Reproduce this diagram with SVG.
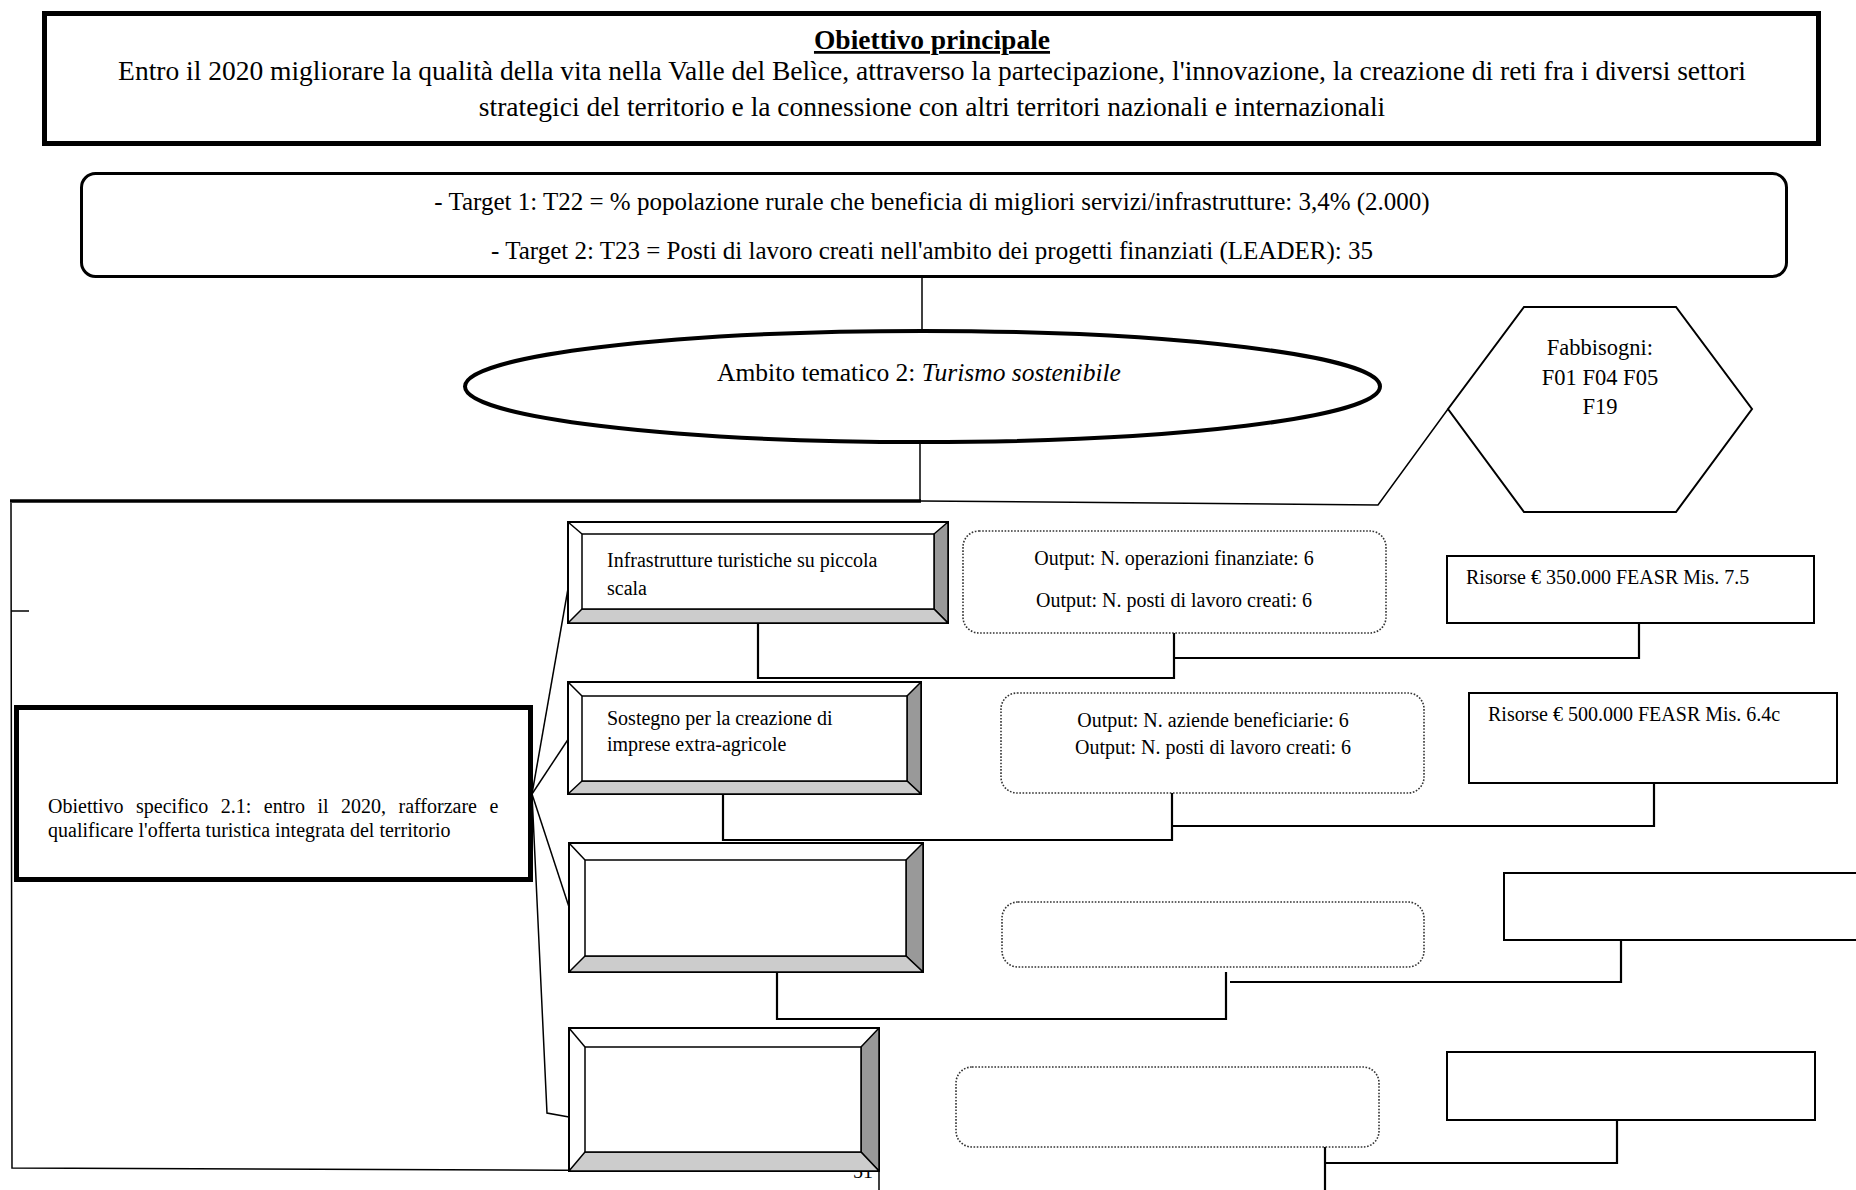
<svg xmlns="http://www.w3.org/2000/svg" width="1856" height="1190" viewBox="0 0 1856 1190">
  <style>
    text { font-family: "Liberation Serif", "Times New Roman", serif; fill: #000; }
    .t-main { font-size: 27.5px; }
    .t-target { font-size: 25px; }
    .t-theme { font-size: 25.5px; }
    .t-need { font-size: 22.5px; }
    .t-body { font-size: 20px; }
    .box { fill: #fff; stroke: #000; }
    .ln { fill: none; stroke: #000; stroke-width: 1.5; }
    .ln2 { fill: none; stroke: #000; stroke-width: 2.2; }
    .dot { fill: #fff; stroke: #333; stroke-width: 1.6; stroke-dasharray: 1.6 1.6; }
    .bev-out { fill: #fff; stroke: #000; stroke-width: 2; }
    .bev-r { fill: #999; stroke: #000; stroke-width: 1.5; stroke-linejoin: round; }
    .bev-b { fill: #ccc; stroke: #000; stroke-width: 1.5; stroke-linejoin: round; }
    .bev-in { fill: #fff; stroke: #000; stroke-width: 1.5; }
  </style>

  <!-- page number, partly covered by the last measure box -->
  <text class="t-body" x="853" y="1178">51</text>

  <!-- connectors -->
  <g id="connectors">
    <!-- target box to theme ellipse -->
    <line class="ln" x1="922" y1="278" x2="922" y2="331"/>
    <!-- ellipse down to main branch -->
    <line class="ln" x1="920" y1="442" x2="920" y2="501"/>
    <!-- main branch line -->
    <line x1="10" y1="501" x2="921" y2="501" stroke="#000" stroke-width="3.5"/>
    <polyline class="ln" points="921,501 1378,505 1448,409"/>
    <!-- left rail -->
    <polyline class="ln" points="11,503 12,1168 724,1171"/>
    <line class="ln" x1="11" y1="611" x2="29" y2="611"/>
    <!-- fan from the specific objective to the four measures -->
    <line class="ln" x1="532" y1="794" x2="569" y2="583"/>
    <line class="ln" x1="532" y1="794" x2="569" y2="738"/>
    <line class="ln" x1="532" y1="794" x2="569" y2="907"/>
    <polyline class="ln" points="532,794 547,1113 569,1117"/>
    <!-- measure 1 -->
    <polyline class="ln2" points="758,623 758,678 1174,678 1174,633"/>
    <polyline class="ln2" points="1174,658 1639,658 1639,623"/>
    <!-- measure 2 -->
    <polyline class="ln2" points="723,794 723,840 1172,840 1172,793"/>
    <polyline class="ln2" points="1172,826 1654,826 1654,783"/>
    <!-- measure 3 -->
    <polyline class="ln2" points="777,972 777,1019 1226,1019 1226,972"/>
    <polyline class="ln2" points="1230,982 1621,982 1621,940"/>
    <!-- measure 4 -->
    <line class="ln2" x1="1325" y1="1147" x2="1325" y2="1190"/>
    <polyline class="ln2" points="1325,1163 1617,1163 1617,1120"/>
    <line class="ln" x1="879" y1="1171" x2="879" y2="1190"/>
  </g>

  <!-- main objective -->
  <g id="obiettivo-principale">
    <rect class="box" x="44.5" y="13.5" width="1774" height="130" stroke-width="5"/>
    <text class="t-main" x="932" y="49" text-anchor="middle" font-weight="bold" text-decoration="underline">Obiettivo principale</text>
    <text class="t-main" x="932" y="80" text-anchor="middle">Entro il 2020 migliorare la qualità della vita nella Valle del Belìce, attraverso la partecipazione, l'innovazione, la creazione di reti fra i diversi settori</text>
    <text class="t-main" x="932" y="116" text-anchor="middle">strategici del territorio e la connessione con altri territori nazionali e internazionali</text>
  </g>

  <!-- targets -->
  <g id="target">
    <rect class="box" x="81.5" y="173.5" width="1705" height="103" rx="14" stroke-width="3"/>
    <text class="t-target" x="932" y="210" text-anchor="middle">- Target 1: T22 = % popolazione rurale che beneficia di migliori servizi/infrastrutture: 3,4% (2.000)</text>
    <text class="t-target" x="932" y="259" text-anchor="middle">- Target 2: T23 = Posti di lavoro creati nell'ambito dei progetti finanziati (LEADER): 35</text>
  </g>

  <!-- thematic area -->
  <g id="ambito-tematico">
    <ellipse class="box" cx="922.5" cy="386.5" rx="457.5" ry="55.5" stroke-width="4"/>
    <text class="t-theme" x="919" y="381" text-anchor="middle">Ambito tematico 2: <tspan font-style="italic">Turismo sostenibile</tspan></text>
  </g>

  <!-- needs -->
  <g id="fabbisogni">
    <polygon class="box" stroke-width="2" points="1448,409 1524,307 1676,307 1752,409 1676,512 1524,512"/>
    <text class="t-need" x="1600" y="355" text-anchor="middle">Fabbisogni:</text>
    <text class="t-need" x="1600" y="385" text-anchor="middle">F01 F04 F05</text>
    <text class="t-need" x="1600" y="414" text-anchor="middle">F19</text>
  </g>

  <!-- specific objective -->
  <g id="obiettivo-specifico">
    <rect class="box" x="16.5" y="707.5" width="514" height="172" stroke-width="5"/>
    <text class="t-body" x="48" y="813" word-spacing="7.5">Obiettivo specifico 2.1: entro il 2020, rafforzare e</text>
    <text class="t-body" x="48" y="837">qualificare l'offerta turistica integrata del territorio</text>
  </g>

  <!-- measure 1 -->
  <g id="misura-1">
    <rect class="bev-out" x="568" y="522" width="380" height="101"/>
    <polygon class="bev-r" points="948,522 948,623 934,609 934,534"/>
    <polygon class="bev-b" points="568,623 948,623 934,609 582,609"/>
    <line class="ln" x1="568" y1="522" x2="582" y2="534"/>
    <rect class="bev-in" x="582" y="534" width="352" height="75"/>
    <text class="t-body" x="607" y="567">Infrastrutture turistiche su piccola</text>
    <text class="t-body" x="607" y="595">scala</text>
  </g>
  <g id="output-1">
    <rect class="dot" x="963" y="531" width="423" height="102" rx="16"/>
    <text class="t-body" x="1174" y="565" text-anchor="middle">Output: N. operazioni finanziate: 6</text>
    <text class="t-body" x="1174" y="607" text-anchor="middle">Output: N. posti di lavoro creati: 6</text>
  </g>
  <g id="risorse-1">
    <rect class="box" x="1447" y="556" width="367" height="67" stroke-width="2"/>
    <text class="t-body" x="1466" y="584">Risorse € 350.000 FEASR Mis. 7.5</text>
  </g>

  <!-- measure 2 -->
  <g id="misura-2">
    <rect class="bev-out" x="568" y="682" width="353" height="112"/>
    <polygon class="bev-r" points="921,682 921,794 907,781 907,696"/>
    <polygon class="bev-b" points="568,794 921,794 907,781 582,781"/>
    <line class="ln" x1="568" y1="682" x2="582" y2="696"/>
    <rect class="bev-in" x="582" y="696" width="325" height="85"/>
    <text class="t-body" x="607" y="725">Sostegno per la creazione di</text>
    <text class="t-body" x="607" y="751">imprese extra-agricole</text>
  </g>
  <g id="output-2">
    <rect class="dot" x="1001" y="693" width="423" height="100" rx="16"/>
    <text class="t-body" x="1213" y="727" text-anchor="middle">Output: N. aziende beneficiarie: 6</text>
    <text class="t-body" x="1213" y="754" text-anchor="middle">Output: N. posti di lavoro creati: 6</text>
  </g>
  <g id="risorse-2">
    <rect class="box" x="1469" y="693" width="368" height="90" stroke-width="2"/>
    <text class="t-body" x="1488" y="721">Risorse € 500.000 FEASR Mis. 6.4c</text>
  </g>

  <!-- measure 3 -->
  <g id="misura-3">
    <rect class="bev-out" x="569" y="843" width="354" height="129"/>
    <polygon class="bev-r" points="923,843 923,972 906,956 906,860"/>
    <polygon class="bev-b" points="569,972 923,972 906,956 585,956"/>
    <line class="ln" x1="569" y1="843" x2="585" y2="860"/>
    <rect class="bev-in" x="585" y="860" width="321" height="96"/>
  </g>
  <g id="output-3">
    <rect class="dot" x="1002" y="902" width="422" height="65" rx="16"/>
  </g>
  <g id="risorse-3">
    <rect class="box" x="1504" y="873" width="366" height="67" stroke-width="2"/>
  </g>

  <!-- measure 4 -->
  <g id="misura-4">
    <rect class="bev-out" x="569" y="1028" width="310" height="143"/>
    <polygon class="bev-r" points="879,1028 879,1171 861,1152 861,1047"/>
    <polygon class="bev-b" points="569,1171 879,1171 861,1152 585,1152"/>
    <line class="ln" x1="569" y1="1028" x2="585" y2="1047"/>
    <rect class="bev-in" x="585" y="1047" width="276" height="105"/>
  </g>
  <g id="output-4">
    <rect class="dot" x="956" y="1067" width="423" height="80" rx="16"/>
  </g>
  <g id="risorse-4">
    <rect class="box" x="1447" y="1052" width="368" height="68" stroke-width="2"/>
  </g>
</svg>
